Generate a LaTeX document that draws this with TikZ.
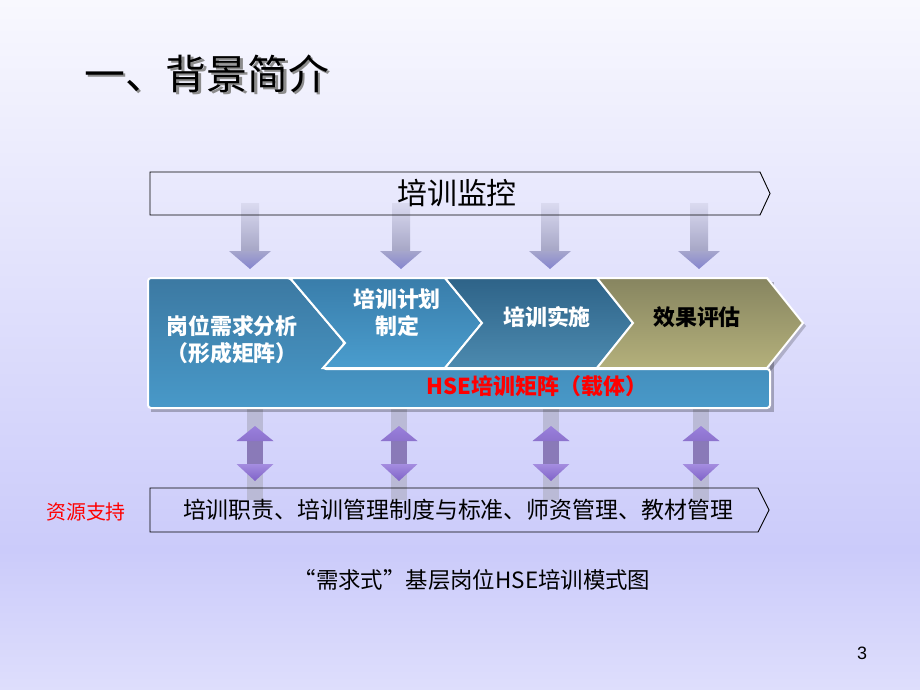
\documentclass[tikz,border=0pt]{standalone}
\usepackage{fontspec}
\setmainfont{Noto Sans CJK SC}
\newfontfamily\numfont{Liberation Sans}
\definecolor{bgTop}{HTML}{F8F8FE}
\definecolor{bgMid}{HTML}{CBCBFA}
\definecolor{bgBot}{HTML}{DEDEFC}
\definecolor{aTop}{HTML}{3C79A2}
\definecolor{aBot}{HTML}{4899C9}
\definecolor{bTop}{HTML}{397DAA}
\definecolor{bBot}{HTML}{4A9DCE}
\definecolor{cTop}{HTML}{2E6388}
\definecolor{cBot}{HTML}{4C8AAF}
\definecolor{dTop}{HTML}{878560}
\definecolor{dBot}{HTML}{B4B07B}
\definecolor{shaftTop}{HTML}{DADAF0}
\definecolor{shaftBot}{HTML}{A6A6C6}
\definecolor{headc}{HTML}{9C9CC6}
\definecolor{stripc}{HTML}{BABAD6}
\definecolor{purpTop}{HTML}{9A80DC}
\definecolor{purpBot}{HTML}{7F62C8}
\definecolor{purpShaft}{HTML}{8A7AB8}
\begin{document}
\begin{tikzpicture}[x=1bp,y=-1bp,
  lbl/.style={inner sep=0pt, align=center},
  chev/.style={draw=white, line width=2bp, line join=miter},
  ibox/.style={draw=black, line width=0.9bp},
  wtxt/.style={lbl, text=white, font=\bfseries\fontsize{22}{27}\selectfont},
]
\useasboundingbox (0,0) rectangle (920,690);
% background
\shade[top color=bgTop, bottom color=bgMid] (0,0) rectangle (920,551);
\shade[top color=bgMid, bottom color=bgBot] (0,550) rectangle (920,690);

% title with drop shadow (one node)
\node[lbl, anchor=west, font=\fontsize{41}{41}\selectfont] (title) at (84,75)
  {\makebox[0pt][l]{\hspace{2.5bp}\raisebox{-2.5bp}{\color{black!45}一、背景简介}}一、背景简介};

% down arrows
\foreach \c in {250,401,550,699}{
  \shade[top color=shaftTop, bottom color=shaftBot] (\c-9,203) rectangle (\c+9,251);
  \shade[top color=headc!90!white, bottom color=headc!85!blue] (\c-21,251) -- (\c+21,251) -- (\c,269) -- cycle;
}

% bidirectional arrow strips
\foreach \c in {255,399,551,701}{
  \fill[stripc] (\c-8,408) rectangle (\c+8,500);
}

% main block shadow
\fill[black, opacity=0.25] (151,282) rectangle (774,412);
\fill[black, opacity=0.2] (770,282) -- (806,326) -- (770,372) -- cycle;

% shape A: first chevron + bar
\shade[top color=aTop, bottom color=aBot, chev, rounded corners=3bp]
  (148,278) -- (290,278) -- (345,343) -- (323,369) -- (770,369) -- (770,408) -- (148,408) -- cycle;
% chevrons
\shade[top color=bTop, bottom color=bBot, chev]
  (290,278) -- (445,278) -- (482,323) -- (445,368) -- (323,368) -- (345,343) -- cycle;
\shade[top color=cTop, bottom color=cBot, chev]
  (445,278) -- (597,278) -- (633,323) -- (597,368) -- (445,368) -- (482,323) -- cycle;
\shade[top color=dTop, bottom color=dBot, chev]
  (597,278) -- (767,278) -- (803,323) -- (767,368) -- (597,368) -- (633,323) -- cycle;

% bidirectional arrows (purple)
\foreach \c in {255,399,551,701}{
  \fill[purpShaft] (\c-8,440) rectangle (\c+8,465);
  \shade[top color=purpTop, bottom color=purpBot!90!white] (\c,426) -- (\c+18.5,441) -- (\c-18.5,441) -- cycle;
  \shade[top color=purpTop!90!white, bottom color=purpBot] (\c-18.5,464) -- (\c+18.5,464) -- (\c,481) -- cycle;
}

% top box
\draw[ibox] (150,172) -- (760,172) -- (770,193.5) -- (760,215) -- (150,215) -- cycle;
\node[lbl, font=\fontsize{30}{30}\selectfont] (mon) at (457,193) {培训监控};

% bottom box
\draw[ibox] (150,488) -- (758,488) -- (769,510) -- (758,532) -- (150,532) -- cycle;
\node[lbl, font=\fontsize{23}{23}\selectfont] (res) at (458,510) {培训职责、培训管理制度与标准、师资管理、教材管理};
\node[lbl, text=red, font=\fontsize{20}{20}\selectfont] (sup) at (86,512) {资源支持};

% chevron texts
\node[wtxt] (t1) at (232,340) {岗位需求分析\\（形成矩阵）};
\node[wtxt] (t2) at (397,313) {培训计划\\制定};
\node[wtxt] (t3) at (547,317) {培训实施};
\node[wtxt, text=black] (t4) at (697,317) {效果评估};
\node[lbl, text=red, font=\bfseries\fontsize{22}{22}\selectfont] (t5) at (537,386) {HSE培训矩阵（载体）};

% caption and page number
\node[lbl, font=\fontsize{22.5}{22.5}\selectfont] (cap) at (472,580) {“需求式”基层岗位HSE培训模式图};
\node[lbl, font=\numfont\fontsize{18}{18}\selectfont] (pg) at (862,653) {3};
\end{tikzpicture}
\end{document}
